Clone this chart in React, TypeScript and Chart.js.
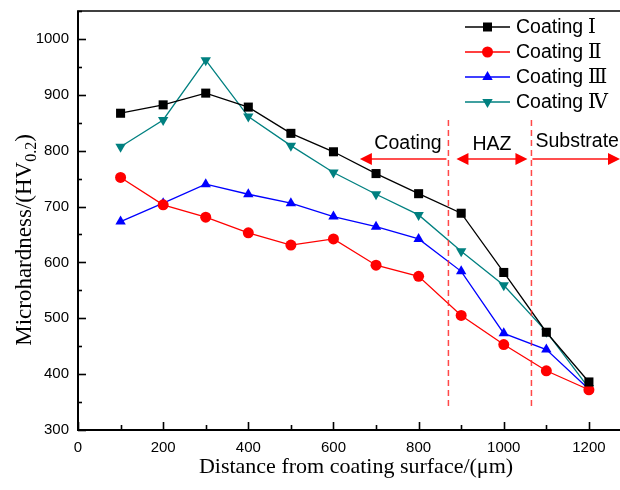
import React, { useEffect, useRef } from 'react';
import { Chart, registerables } from 'chart.js';

Chart.register(...registerables);

const distances = [100, 200, 300, 400, 500, 600, 700, 800, 900, 1000, 1100, 1200];
const coatingI = [867, 882, 903, 878, 831, 798, 759, 723, 688, 582, 475, 386];
const coatingII = [752, 703, 681, 653, 631, 642, 595, 575, 505, 453, 406, 372];
const coatingIII = [673, 706, 740, 722, 706, 682, 664, 642, 584, 473, 444, 373];
const coatingIV = [807, 855, 962, 861, 809, 761, 722, 685, 620, 559, 476, 375];

const seriesLabel = 'Coating';
const numerals = ['Ⅰ', 'Ⅱ', 'Ⅲ', 'Ⅳ'];
const seriesColors = ['#000000', '#ff0000', '#0000ff', '#008080'];
const pointShapes = ['rect', 'circle', 'triangle', 'triangleDown'];

const xTickValues = [0, 200, 400, 600, 800, 1000, 1200];
const yTickValues = [300, 400, 500, 600, 700, 800, 900, 1000];
const xMin = 0;
const xMax = 1273;
const yMin = 300;
const yMax = 1050;

const zoneBounds = [870, 1065];
const zoneLabels = ['Coating', 'HAZ', 'Substrate'];

const xTitle = 'Distance from coating surface/(\u03bcm)';
const yTitleMain = 'Microhardness/(HV';
const yTitleSub = '0.2';
const yTitleEnd = ')';

const SANS = '"Liberation Sans", Arial, sans-serif';
const SERIF = '"Liberation Serif", "Times New Roman", "DejaVu Serif", serif';

function drawMarker(ctx: CanvasRenderingContext2D, shape: string, x: number, y: number, color: string) {
  ctx.fillStyle = color;
  ctx.beginPath();
  if (shape === 'rect') {
    ctx.rect(x - 4.5, y - 4.5, 9, 9);
  } else if (shape === 'circle') {
    ctx.arc(x, y, 5.5, 0, Math.PI * 2);
  } else if (shape === 'triangle') {
    const r = 6;
    ctx.moveTo(x, y - r);
    ctx.lineTo(x + r * Math.sin(2 * Math.PI / 3), y - r * Math.cos(2 * Math.PI / 3));
    ctx.lineTo(x + r * Math.sin(4 * Math.PI / 3), y - r * Math.cos(4 * Math.PI / 3));
  } else {
    const r = 6;
    ctx.moveTo(x, y + r);
    ctx.lineTo(x + r * Math.sin(2 * Math.PI / 3), y + r * Math.cos(2 * Math.PI / 3));
    ctx.lineTo(x + r * Math.sin(4 * Math.PI / 3), y + r * Math.cos(4 * Math.PI / 3));
  }
  ctx.closePath();
  ctx.fill();
}

function arrowHead(ctx: CanvasRenderingContext2D, tipX: number, y: number, dir: number) {
  ctx.fillStyle = '#ff0000';
  ctx.beginPath();
  ctx.moveTo(tipX, y);
  ctx.lineTo(tipX - dir * 12, y - 6);
  ctx.lineTo(tipX - dir * 12, y + 6);
  ctx.closePath();
  ctx.fill();
}

const decorPlugin = {
  id: 'decor',
  afterDraw(chart: any) {
    const ctx: CanvasRenderingContext2D = chart.ctx;
    const { left, right, top, bottom } = chart.chartArea;
    const xs = chart.scales.x;
    const ys = chart.scales.y;
    ctx.save();

    // axes frame
    ctx.strokeStyle = '#000';
    ctx.lineWidth = 2;
    ctx.beginPath();
    ctx.moveTo(left, top);
    ctx.lineTo(left, bottom);
    ctx.lineTo(right, bottom);
    ctx.stroke();
    ctx.lineWidth = 1.6;
    ctx.beginPath();
    ctx.moveTo(left - 1, top);
    ctx.lineTo(right, top);
    ctx.stroke();

    // y ticks (inside)
    ctx.lineWidth = 1.6;
    for (let v = yMin; v <= yMax; v += 50) {
      const py = Math.round(ys.getPixelForValue(v)) + 0.5;
      const len = v % 100 === 0 ? 8 : 4;
      ctx.beginPath();
      ctx.moveTo(left, py);
      ctx.lineTo(left + len, py);
      ctx.stroke();
    }
    // x ticks (inside)
    for (let v = xMin; v <= xMax; v += 100) {
      const px = Math.round(xs.getPixelForValue(v)) + 0.5;
      const len = v % 200 === 0 ? 8 : 5;
      ctx.beginPath();
      ctx.moveTo(px, bottom);
      ctx.lineTo(px, bottom - len);
      ctx.stroke();
    }

    // zone dashed lines
    ctx.strokeStyle = 'rgba(255,40,40,0.85)';
    ctx.lineWidth = 1.5;
    ctx.setLineDash([6, 4]);
    zoneBounds.forEach((b) => {
      const px = xs.getPixelForValue(b);
      ctx.beginPath();
      ctx.moveTo(px, ys.getPixelForValue(855));
      ctx.lineTo(px, ys.getPixelForValue(343));
      ctx.stroke();
    });
    ctx.setLineDash([]);

    // arrows
    const ay = ys.getPixelForValue(785);
    const b0 = xs.getPixelForValue(zoneBounds[0]);
    const b1 = xs.getPixelForValue(zoneBounds[1]);
    ctx.strokeStyle = 'rgba(255,60,60,0.9)';
    ctx.lineWidth = 2;
    const cStart = b0 - 2;
    const cEnd = xs.getPixelForValue(662);
    ctx.beginPath();
    ctx.moveTo(cStart, ay);
    ctx.lineTo(cEnd + 10, ay);
    ctx.stroke();
    arrowHead(ctx, cEnd, ay, -1);
    const hStart = b0 + 8;
    const hEnd = b1 - 4;
    ctx.beginPath();
    ctx.moveTo(hStart + 10, ay);
    ctx.lineTo(hEnd - 10, ay);
    ctx.stroke();
    arrowHead(ctx, hStart, ay, -1);
    arrowHead(ctx, hEnd, ay, 1);
    const sStart = b1 + 1;
    const sEnd = right;
    ctx.beginPath();
    ctx.moveTo(sStart, ay);
    ctx.lineTo(sEnd - 10, ay);
    ctx.stroke();
    arrowHead(ctx, sEnd, ay, 1);

    // zone labels
    ctx.fillStyle = '#000';
    ctx.font = `19.5px ${SANS}`;
    ctx.textBaseline = 'alphabetic';
    ctx.textAlign = 'center';
    ctx.fillText(zoneLabels[0], xs.getPixelForValue(775), ay - 10);
    ctx.fillText(zoneLabels[1], (b0 + b1) / 2 + 2, ay - 9);
    ctx.textAlign = 'left';
    ctx.fillText(zoneLabels[2], b1 + 4, ay - 12);

    // legend
    const legX1 = 465;
    const legX2 = 510;
    const legY0 = 27;
    const legDy = 25;
    for (let i = 0; i < 4; i++) {
      const y = legY0 + i * legDy;
      ctx.strokeStyle = seriesColors[i];
      ctx.lineWidth = 1.3;
      ctx.beginPath();
      ctx.moveTo(legX1, y);
      ctx.lineTo(legX2, y);
      ctx.stroke();
      drawMarker(ctx, pointShapes[i], (legX1 + legX2) / 2, y, seriesColors[i]);
      ctx.fillStyle = '#000';
      ctx.textAlign = 'left';
      ctx.textBaseline = 'middle';
      ctx.font = `19.5px ${SANS}`;
      ctx.fillText(seriesLabel, 516, y + 1);
      ctx.font = `20px ${SERIF}`;
      ctx.fillText(numerals[i], 588, y + 1);
    }

    // x title
    ctx.fillStyle = '#000';
    ctx.font = `22px ${SERIF}`;
    ctx.textAlign = 'center';
    ctx.textBaseline = 'middle';
    ctx.fillText(xTitle, 356, 467);

    // y title with subscript
    ctx.save();
    ctx.translate(31, 240);
    ctx.rotate(-Math.PI / 2);
    ctx.textAlign = 'left';
    ctx.textBaseline = 'alphabetic';
    ctx.font = `23px ${SERIF}`;
    const w1 = ctx.measureText(yTitleMain).width;
    const w3 = ctx.measureText(yTitleEnd).width;
    ctx.font = `16px ${SERIF}`;
    const w2 = ctx.measureText(yTitleSub).width;
    let x0 = -(w1 + w2 + w3) / 2;
    ctx.font = `23px ${SERIF}`;
    ctx.fillText(yTitleMain, x0, 0);
    x0 += w1;
    ctx.font = `16px ${SERIF}`;
    ctx.fillText(yTitleSub, x0, 5);
    x0 += w2;
    ctx.font = `23px ${SERIF}`;
    ctx.fillText(yTitleEnd, x0, 0);
    ctx.restore();

    ctx.restore();
  },
};

export default function App() {
  const canvasRef = useRef<HTMLCanvasElement | null>(null);

  useEffect(() => {
    const canvas = canvasRef.current;
    if (!canvas) return;
    const series = [coatingI, coatingII, coatingIII, coatingIV];
    const datasets = series.map((vals, i) => ({
      label: `${seriesLabel} ${numerals[i]}`,
      data: distances.map((d, j) => ({ x: d, y: vals[j] })),
      borderColor: seriesColors[i],
      backgroundColor: seriesColors[i],
      borderWidth: 1.3,
      pointStyle: pointShapes[i] === 'triangleDown' ? 'triangle' : pointShapes[i],
      pointRotation: pointShapes[i] === 'triangleDown' ? 180 : 0,
      pointRadius: pointShapes[i] === 'rect' ? 6.4 : pointShapes[i] === 'circle' ? 5.5 : 6,
      pointBorderWidth: 0,
      pointBackgroundColor: seriesColors[i],
      tension: 0,
      fill: false,
    }));

    const chart = new Chart(canvas, {
      type: 'line',
      data: { datasets },
      options: {
        animation: false,
        responsive: false,
        devicePixelRatio: 1,
        layout: { autoPadding: false, padding: { top: 11, right: 0, left: 0, bottom: 0 } },
        plugins: {
          legend: { display: false },
          tooltip: { enabled: false },
        },
        scales: {
          x: {
            type: 'linear',
            min: xMin,
            max: xMax,
            grid: { display: false, drawTicks: false },
            border: { display: false },
            ticks: {
              padding: 9,
              color: '#000',
              font: { family: SANS, size: 15 },
              maxRotation: 0,
              autoSkip: false,
              callback: (v: any) => String(v),
            },
            afterBuildTicks: (axis: any) => {
              axis.ticks = xTickValues.map((v) => ({ value: v }));
            },
            afterFit: (axis: any) => {
              axis.height = 60;
              axis.paddingLeft = 0;
              axis.paddingRight = 0;
            },
          },
          y: {
            type: 'linear',
            min: yMin,
            max: yMax,
            grid: { display: false, drawTicks: false },
            border: { display: false },
            ticks: {
              padding: 9,
              color: '#000',
              font: { family: SANS, size: 15 },
              autoSkip: false,
              callback: (v: any) => String(v),
            },
            afterBuildTicks: (axis: any) => {
              axis.ticks = yTickValues.map((v) => ({ value: v }));
            },
            afterFit: (axis: any) => {
              axis.width = 78;
              axis.paddingTop = 0;
              axis.paddingBottom = 0;
            },
          },
        },
      } as any,
      plugins: [decorPlugin],
    });
    return () => chart.destroy();
  }, []);

  return (
    <div style={{ position: 'absolute', left: 0, top: 0, width: 620, height: 490, background: '#fff' }}>
      <canvas ref={canvasRef} width={620} height={490} style={{ display: 'block' }} />
    </div>
  );
}
